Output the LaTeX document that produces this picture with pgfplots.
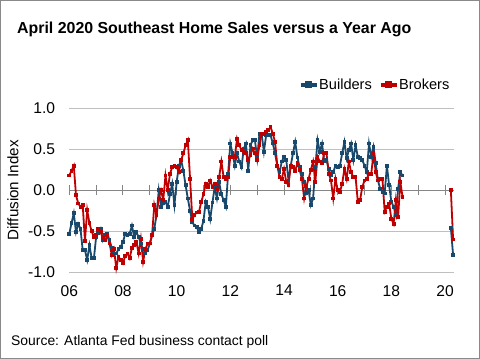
\documentclass[border=0pt]{standalone}
\usepackage{fontspec}
\setmainfont{Liberation Sans}
\usepackage{pgfplots}
\pgfplotsset{compat=1.18}
\definecolor{bblue}{RGB}{24,73,108}
\definecolor{bred}{RGB}{192,0,0}
\definecolor{gridgray}{RGB}{191,191,191}
\definecolor{zerogray}{RGB}{134,134,134}
\definecolor{framegray}{RGB}{137,137,137}
\begin{document}
\begin{tikzpicture}
\useasboundingbox (0,0) rectangle (480bp,359bp);
\fill[white] (0,0) rectangle (480bp,359bp);
\draw[framegray, line width=1.2bp] (0.6bp,0.6bp) rectangle (479.4bp,358.4bp);
\node[anchor=base west, font=\bfseries\fontsize{15.9bp}{18bp}\selectfont, inner sep=0pt] at (17bp,325.5bp) {April 2020 Southeast Home Sales versus a Year Ago};
\node[anchor=base west, font=\fontsize{13.9bp}{16bp}\selectfont, inner sep=0pt] at (11bp,14bp) {Source: Atlanta Fed business contact poll};
\begin{axis}[
  at={(69.3bp,86.7bp)}, anchor=south west,
  scale only axis, width=384.7bp, height=164bp,
  xmin=0, xmax=172, ymin=-1, ymax=1,
  clip=false,
  axis line style={draw=none},
  tick style={draw=none},
  xtick={0,24,...,168},
  xticklabels={06,08,10,12,14,16,18,20},
  ytick={-1,-0.5,0,0.5,1},
  yticklabels={-1.0,-0.5,0.0,0.5,1.0},
  ymajorgrids, grid style={gridgray, line width=1bp},
  unbounded coords=jump,
  tick label style={font=\fontsize{15.6bp}{18bp}\selectfont},
  xticklabel style={anchor=north, inner sep=0pt, yshift=-12.7bp},
  yticklabel style={anchor=east, inner sep=0pt, xshift=-14bp},
  ylabel={Diffusion Index},
  ylabel style={at={(axis description cs:-0.1464,0.5)}, anchor=center, font=\fontsize{15.2bp}{17bp}\selectfont},
  legend style={at={(axis description cs:0.597,1.142)}, anchor=west, draw=none, fill=none,
    legend columns=2, font=\fontsize{14.6bp}{17bp}\selectfont, inner sep=0pt, outer sep=0pt,
    /tikz/every even column/.append style={column sep=6bp}, nodes={inner sep=1bp}},
  legend image code/.code={
    \draw[#1, line width=3.2bp, mark=none] (0bp,0bp) -- (16bp,0bp);
    \draw[#1, mark size=2.4bp] plot coordinates {(8bp,0.6bp)};
  },
]
\draw[zerogray, line width=1.3bp] (axis cs:0,0) -- (axis cs:172,0);
\pgfplotsinvokeforeach{0,12,24,36,48,60,72,84,96,108,120,132,144,156,168}{
  \draw[zerogray, line width=1bp] ([yshift=-5bp]axis cs:#1,0) -- ([yshift=5bp]axis cs:#1,0);
}
\addplot[bblue, line width=1.8bp, mark=square*, mark size=1bp, mark options={solid}] coordinates {
(0,-0.53) (1,-0.40) (2,-0.28) (3,-0.51) (4,-0.41) (5,-0.47) (6,-0.73) (7,-0.73) (8,-0.85) (9,-0.67)
(10,-0.83) (11,-0.83) (12,-0.57) (13,-0.52) (14,-0.47) (15,-0.61) (16,-0.55) (17,-0.53) (18,-0.61) (19,-0.70)
(20,-0.77) (21,-0.77) (22,-0.72) (23,-0.69) (24,-0.63) (25,-0.53) (26,-0.55) (27,-0.53) (28,-0.43) (29,-0.57)
(30,-0.51) (31,-0.57) (32,-0.65) (33,-0.72) (34,-0.77) (35,-0.73) (36,-0.65) (37,-0.55) (38,-0.47) (39,-0.30)
(40,0.00) (41,-0.20) (42,-0.16) (43,-0.14) (44,-0.20) (45,-0.05) (46,0.08) (47,-0.18) (48,0.10) (49,0.30)
(50,0.37) (51,0.24) (52,0.06) (53,-0.10) (54,-0.25) (55,-0.39) (56,-0.43) (57,-0.45) (58,-0.51) (59,-0.47)
(60,-0.37) (61,-0.14) (62,-0.20) (63,-0.35) (64,-0.15) (65,0.04) (66,-0.10) (67,0.10) (68,-0.05) (69,-0.12)
(70,-0.20) (71,0.20) (72,0.57) (73,0.45) (74,0.30) (75,0.45) (76,0.35) (77,0.28) (78,0.51) (79,0.57)
(80,0.24) (81,0.55) (82,0.61) (83,0.61) (84,0.39) (85,0.69) (86,0.69) (87,0.47) (88,0.67) (89,0.67)
(90,0.67) (91,0.57) (92,0.45) (93,0.30) (94,0.22) (95,0.35) (96,0.41) (97,0.37) (98,0.12) (99,0.30)
(100,0.45) (101,0.59) (102,0.40) (103,0.28) (104,0.20) (105,0.10) (106,-0.04) (107,0.00) (108,-0.18) (109,-0.10)
(110,0.28) (111,0.61) (112,0.47) (113,0.57) (114,0.35) (115,0.37) (116,0.26) (117,0.18) (118,0.22) (119,0.30)
(120,0.28) (121,0.30) (122,0.45) (123,0.59) (124,0.39) (125,0.49) (126,0.57) (127,0.37) (128,0.55) (129,0.41)
(130,0.39) (131,0.37) (132,0.30) (133,0.22) (134,0.57) (135,0.41) (136,0.53) (137,0.33) (138,0.12) (139,0.02)
(140,-0.02) (141,-0.04) (142,0.30) (143,0.06) (144,-0.14) (145,-0.20) (146,-0.30) (147,0.02) (148,0.22) (149,0.18)
(150,nan) (170.6,-0.46) (171.6,-0.79)
};
\addlegendentry{Builders}
\addplot[bred, line width=1.8bp, mark=square*, mark size=1bp, mark options={solid}] coordinates {
(0,0.18) (1,0.24) (2,0.30) (3,-0.06) (4,-0.16) (5,-0.20) (6,-0.18) (7,-0.62) (8,-0.24) (9,-0.40)
(10,-0.50) (11,-0.57) (12,-0.55) (13,-0.47) (14,-0.51) (15,-0.58) (16,-0.61) (17,-0.55) (18,-0.65) (19,-0.79)
(20,-0.72) (21,-0.95) (22,-0.81) (23,-0.85) (24,-0.89) (25,-0.80) (26,-0.77) (27,-0.83) (28,-0.70) (29,-0.67)
(30,-0.63) (31,-0.77) (32,-0.59) (33,-0.87) (34,-0.72) (35,-0.65) (36,-0.65) (37,-0.55) (38,-0.18) (39,-0.30)
(40,-0.10) (41,0.00) (42,-0.12) (43,0.18) (44,0.00) (45,0.20) (46,0.28) (47,0.30) (48,0.28) (49,0.22)
(50,0.37) (51,0.45) (52,0.55) (53,0.61) (54,0.14) (55,-0.35) (56,-0.30) (57,-0.27) (58,-0.26) (59,-0.14)
(60,-0.05) (61,0.08) (62,0.04) (63,0.12) (64,0.04) (65,0.08) (66,0.02) (67,0.16) (68,0.35) (69,0.16)
(70,0.14) (71,0.16) (72,0.41) (73,0.41) (74,0.41) (75,0.63) (76,0.55) (77,0.49) (78,0.47) (79,0.45)
(80,0.37) (81,0.43) (82,0.51) (83,0.45) (84,0.37) (85,0.55) (86,0.69) (87,0.69) (88,0.71) (89,0.74)
(90,0.77) (91,0.69) (92,0.59) (93,0.30) (94,0.16) (95,0.14) (96,0.26) (97,0.10) (98,0.06) (99,0.30)
(100,0.28) (101,0.24) (102,0.33) (103,0.25) (104,0.14) (105,-0.10) (106,0.05) (107,0.14) (108,0.25) (109,0.35)
(110,0.10) (111,0.41) (112,0.35) (113,0.33) (114,0.45) (115,0.45) (116,0.20) (117,0.12) (118,-0.10) (119,0.14)
(120,0.00) (121,-0.02) (122,0.08) (123,0.26) (124,0.14) (125,0.35) (126,0.22) (127,0.16) (128,0.16) (129,-0.14)
(130,-0.12) (131,0.04) (132,0.12) (133,0.14) (134,0.20) (135,0.20) (136,0.45) (137,0.22) (138,0.12) (139,0.14)
(140,0.14) (141,-0.26) (142,-0.20) (143,-0.16) (144,-0.35) (145,-0.41) (146,-0.12) (147,-0.33) (148,0.10) (149,-0.08)
(150,nan) (170.6,0.00) (171.6,-0.60)
};
\addlegendentry{Brokers}
\end{axis}
\end{tikzpicture}
\end{document}
